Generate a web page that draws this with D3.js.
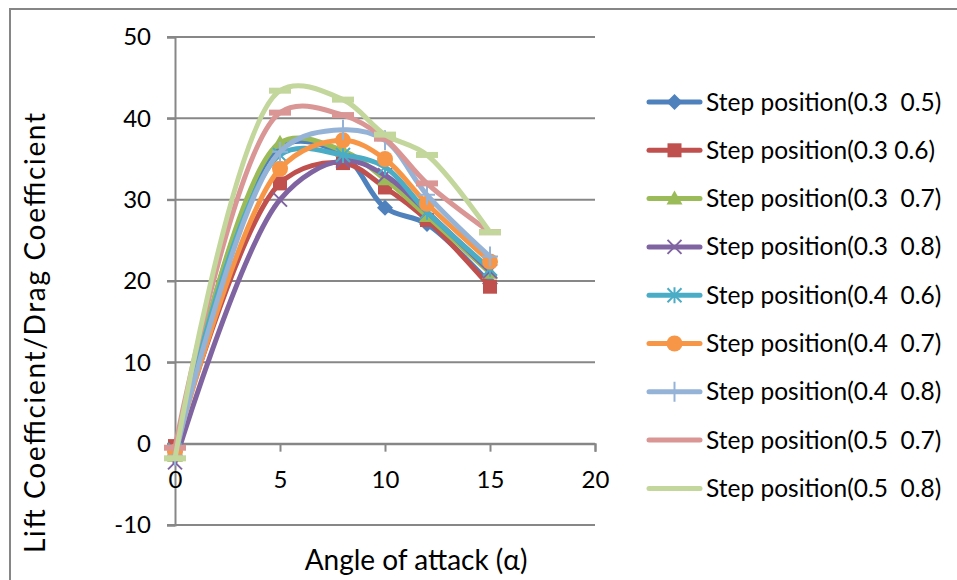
<!DOCTYPE html>
<html>
<head>
<meta charset="utf-8">
<script src="https://cdn.jsdelivr.net/npm/d3@7"></script>
<style>
  html, body { margin: 0; padding: 0; background: #fff; }
  svg { display: block; font-family: Lato, "Open Sans", sans-serif; }
</style>
</head>
<body>
<svg id="chart" width="957" height="580"></svg>
<script>
// Angles of attack (degrees)
const angles = [0, 5, 8, 10, 12, 15];

// Lift/drag ratio for each step position
const step_03_05 = [-1.0, 36.5, 35.5, 29.0, 27.0, 19.7];
const step_03_06 = [-0.3, 32.0, 34.5, 31.5, 27.5, 19.3];
const step_03_07 = [-1.5, 37.0, 36.0, 32.5, 28.0, 21.0];
const step_03_08 = [-2.3, 30.0, 34.8, 33.0, 28.5, 21.2];
const step_04_06 = [-0.8, 35.5, 35.5, 34.0, 28.5, 21.5];
const step_04_07 = [-1.0, 33.8, 37.3, 35.0, 29.5, 22.4];
const step_04_08 = [-1.5, 35.9, 38.6, 37.3, 30.6, 23.0];
const step_05_07 = [-0.5, 40.7, 40.4, 37.5, 32.0, 26.0];
const step_05_08 = [-1.8, 43.4, 42.3, 38.0, 35.5, 26.0];

const seriesNames = [
  "Step position(0.3  0.5)",
  "Step position(0.3 0.6)",
  "Step position(0.3  0.7)",
  "Step position(0.3  0.8)",
  "Step position(0.4  0.6)",
  "Step position(0.4  0.7)",
  "Step position(0.4  0.8)",
  "Step position(0.5  0.7)",
  "Step position(0.5  0.8)"
];
const seriesValues = [step_03_05, step_03_06, step_03_07, step_03_08,
                      step_04_06, step_04_07, step_04_08, step_05_07, step_05_08];
const seriesColors = ["#4F81BD", "#C0504D", "#9BBB59", "#8064A2", "#4BACC6",
                      "#F79646", "#95B3D7", "#D99694", "#C3D69B"];
const seriesMarkers = ["diamond", "square", "triangle", "x", "asterisk",
                       "circle", "plus", "dash", "dash"];

const xTicks = [0, 5, 10, 15, 20];
const yTicks = [-10, 0, 10, 20, 30, 40, 50];

const svg = d3.select("#chart");

// Outer chart frame
svg.append("path")
  .attr("d", "M10,600 L10,9 L960,9")
  .attr("fill", "none")
  .attr("stroke", "#868686")
  .attr("stroke-width", 2);

const x = d3.scaleLinear().domain([0, 20]).range([175, 595]);
const y = d3.scaleLinear().domain([-10, 50]).range([525, 37]);

const gridColor = "#878787";
const labelFont = 24;

// Horizontal gridlines (the zero line doubles as the category axis)
svg.append("g")
  .selectAll("line")
  .data(yTicks)
  .join("line")
  .attr("x1", 167).attr("x2", x(20))
  .attr("y1", d => y(d)).attr("y2", d => y(d))
  .attr("stroke", gridColor)
  .attr("stroke-width", 2);

// Value axis
const yAxis = svg.append("g")
  .attr("transform", `translate(${x(0)},0)`)
  .call(d3.axisLeft(y).tickValues(yTicks).tickSize(8).tickPadding(16).tickFormat(d => String(d)));
yAxis.select(".domain").attr("stroke", gridColor).attr("stroke-width", 2);
yAxis.selectAll(".tick line").attr("stroke", gridColor).attr("stroke-width", 2);
yAxis.selectAll(".tick text")
  .attr("font-size", labelFont).attr("font-family", "Lato, sans-serif").attr("fill", "#000");

// Angle axis crossing at zero
const xAxis = svg.append("g")
  .attr("transform", `translate(0,${y(0)})`)
  .call(d3.axisBottom(x).tickValues(xTicks).tickSize(8).tickPadding(19).tickFormat(d => String(d)));
xAxis.select(".domain").attr("stroke", gridColor).attr("stroke-width", 2);
xAxis.selectAll(".tick line").attr("stroke", gridColor).attr("stroke-width", 2);
xAxis.selectAll(".tick text")
  .attr("font-size", labelFont).attr("font-family", "Lato, sans-serif").attr("fill", "#000");

// Axis titles
svg.append("text")
  .attr("x", 416).attr("y", 570)
  .attr("text-anchor", "middle")
  .attr("font-size", 28)
  .text("Angle of attack (α)");

svg.append("text")
  .attr("transform", "translate(45,333) rotate(-90)")
  .attr("text-anchor", "middle")
  .attr("font-size", 28)
  .attr("textLength", 440)
  .attr("lengthAdjust", "spacing")
  .text("Lift Coefficient/Drag Coefficient");

// Marker drawing
function drawMarker(g, type, color, cx, cy) {
  const m = g.append("g").attr("transform", `translate(${cx},${cy})`);
  switch (type) {
    case "diamond":
      m.append("path").attr("d", "M0,-8 L8,0 L0,8 L-8,0 Z").attr("fill", color);
      break;
    case "square":
      m.append("rect").attr("x", -7).attr("y", -7).attr("width", 14).attr("height", 14).attr("fill", color);
      break;
    case "triangle":
      m.append("path").attr("d", "M0,-8 L8,6 L-8,6 Z").attr("fill", color);
      break;
    case "circle":
      m.append("circle").attr("r", 8).attr("fill", color);
      break;
    case "x":
      m.append("path").attr("d", "M-7,-7 L7,7 M-7,7 L7,-7")
        .attr("stroke", color).attr("stroke-width", 2).attr("fill", "none");
      break;
    case "asterisk":
      m.append("path").attr("d", "M-7,-7 L7,7 M-7,7 L7,-7 M0,-8 L0,8")
        .attr("stroke", color).attr("stroke-width", 2).attr("fill", "none");
      break;
    case "plus":
      m.append("path").attr("d", "M0,-10 L0,10 M-8,0 L8,0")
        .attr("stroke", color).attr("stroke-width", 2).attr("fill", "none");
      break;
    case "dash":
      m.append("path").attr("d", "M-11,0 L11,0")
        .attr("stroke", color).attr("stroke-width", 6).attr("fill", "none");
      break;
  }
}

// Smoothed series lines
const line = d3.line()
  .x(d => x(d[0]))
  .y(d => y(d[1]))
  .curve(d3.curveCatmullRom.alpha(0.5));

const plot = svg.append("g");
seriesValues.forEach((vals, i) => {
  const pts = angles.map((a, j) => [a, vals[j]]);
  const g = plot.append("g");
  g.append("path")
    .datum(pts)
    .attr("d", line)
    .attr("fill", "none")
    .attr("stroke", seriesColors[i])
    .attr("stroke-width", 5)
    .attr("stroke-linejoin", "round")
    .attr("stroke-linecap", "round");
  pts.forEach(p => drawMarker(g, seriesMarkers[i], seriesColors[i], x(p[0]), y(p[1])));
});

// Legend
const legend = svg.append("g");
seriesNames.forEach((name, i) => {
  const cy = 102 + i * 48.3;
  const g = legend.append("g");
  g.append("line")
    .attr("x1", 649).attr("x2", 700)
    .attr("y1", cy).attr("y2", cy)
    .attr("stroke", seriesColors[i])
    .attr("stroke-width", 5)
    .attr("stroke-linecap", "round");
  if (seriesMarkers[i] !== "dash") drawMarker(g, seriesMarkers[i], seriesColors[i], 674.5, cy);
  g.append("text")
    .attr("x", 706).attr("y", cy + 8.5)
    .attr("font-size", 24.5)
    .attr("xml:space", "preserve")
    .style("white-space", "pre")
    .text(name);
});
</script>
</body>
</html>
